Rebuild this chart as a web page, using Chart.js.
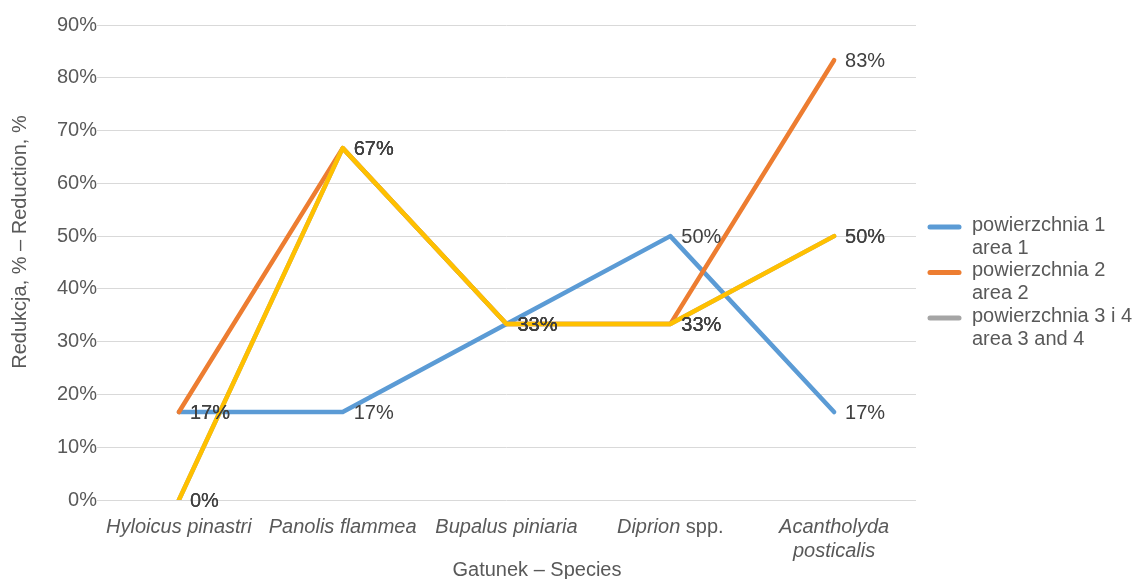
<!DOCTYPE html>
<html>
<head>
<meta charset="utf-8">
<script src="https://cdn.jsdelivr.net/npm/chart.js@4/dist/chart.umd.min.js"></script>
<style>
  body { margin: 0; background: #fff; }
  #wrap { width: 1134px; height: 579px; position: relative; }
</style>
</head>
<body>
<div id="wrap"><canvas id="chart"></canvas></div>
<script>
// categories (species) and reduction values in %
const species = ['Hyloicus pinastri', 'Panolis flammea', 'Bupalus piniaria', 'Diprion spp.', ['Acantholyda', 'posticalis']];
const area1 = [16.67, 16.67, 33.33, 50, 16.67];
const area2 = [16.67, 66.67, 33.33, 33.33, 83.33];
const area3 = [0, 66.67, 33.33, 33.33, 50];
const area4 = [0, 66.67, 33.33, 33.33, 50];
const seriesNames = [
  ['powierzchnia 1', 'area 1'],
  ['powierzchnia 2', 'area 2'],
  ['powierzchnia 3 i 4', 'area 3 and 4'],
  ['powierzchnia 4', 'area 4']
];
const colors = ['#5b9bd5', '#ed7d31', '#a5a5a5', '#ffc000'];
const yTicks = [0, 10, 20, 30, 40, 50, 60, 70, 80, 90];

const fontFam = '"Liberation Sans", Arial, sans-serif';
const fs = 20;

function mkSet(i, vals) {
  return {
    label: seriesNames[i].join(' '),
    data: vals,
    borderColor: colors[i],
    backgroundColor: colors[i],
    borderWidth: 4.5,
    borderCapStyle: 'round',
    borderJoinStyle: 'round',
    pointRadius: 0,
    tension: 0,
    order: 3 - i
  };
}

const decor = {
  id: 'decor',
  afterDatasetsDraw(chart) {
    const ctx = chart.ctx;
    ctx.save();
    ctx.font = fs + 'px ' + fontFam;
    ctx.fillStyle = '#404040';
    ctx.textAlign = 'left';
    ctx.textBaseline = 'middle';
    chart.data.datasets.forEach((ds, d) => {
      const meta = chart.getDatasetMeta(d);
      meta.data.forEach((pt, i) => {
        ctx.fillText(Math.round(ds.data[i]) + '%', pt.x + 11, pt.y + 1);
      });
    });
    ctx.restore();
  },
  afterDraw(chart) {
    const ctx = chart.ctx;
    const xs = chart.scales.x;
    ctx.save();
    ctx.fillStyle = '#595959';
    ctx.textBaseline = 'middle';
    // category labels
    species.forEach((lab, i) => {
      const x = xs.getPixelForTick(i);
      const lines = Array.isArray(lab) ? lab : [lab];
      lines.forEach((ln, j) => {
        const y = 527 + j * 24;
        let it = ln, rest = '';
        if (ln.endsWith(' spp.')) { it = ln.slice(0, -5); rest = ' spp.'; }
        ctx.font = 'italic ' + fs + 'px ' + fontFam;
        const w1 = ctx.measureText(it).width;
        ctx.font = fs + 'px ' + fontFam;
        const w2 = ctx.measureText(rest).width;
        let x0 = x - (w1 + w2) / 2;
        ctx.textAlign = 'left';
        ctx.font = 'italic ' + fs + 'px ' + fontFam;
        ctx.fillText(it, x0, y);
        if (rest) {
          ctx.font = fs + 'px ' + fontFam;
          ctx.fillText(rest, x0 + w1, y);
        }
      });
    });
    // axis titles
    ctx.font = fs + 'px ' + fontFam;
    ctx.textAlign = 'center';
    ctx.fillText('Gatunek – Species', 537, 570);
    ctx.save();
    ctx.translate(20, 242);
    ctx.rotate(-Math.PI / 2);
    ctx.fillText('Redukcja, % – Reduction, %', 0, 0);
    ctx.restore();
    // legend (first three series)
    ctx.textAlign = 'left';
    for (let i = 0; i < 3; i++) {
      const y = 225 + i * 45.5;
      ctx.strokeStyle = colors[i];
      ctx.lineWidth = 5;
      ctx.lineCap = 'round';
      ctx.beginPath();
      ctx.moveTo(930, y + 2);
      ctx.lineTo(959, y + 2);
      ctx.stroke();
      ctx.fillText(seriesNames[i][0], 972, y);
      ctx.fillText(seriesNames[i][1], 972, y + 23);
    }
    ctx.restore();
  }
};

new Chart(document.getElementById('chart').getContext('2d'), {
  type: 'line',
  data: {
    labels: species,
    datasets: [mkSet(0, area1), mkSet(1, area2), mkSet(2, area3), mkSet(3, area4)]
  },
  options: {
    responsive: true,
    maintainAspectRatio: false,
    animation: false,
    layout: { padding: { top: 25, right: 218, bottom: 79, left: 0 } },
    plugins: {
      legend: { display: false },
      tooltip: { enabled: false }
    },
    scales: {
      x: {
        offset: true,
        grid: { display: false },
        border: { display: false },
        ticks: { display: false },
        afterFit(s) { s.height = 0; }
      },
      y: {
        min: 0,
        max: 90,
        grid: { color: '#d9d9d9', lineWidth: 1, drawTicks: false },
        border: { display: false },
        afterBuildTicks(s) { s.ticks = yTicks.map(v => ({ value: v })); },
        ticks: {
          padding: 0,
          color: '#595959',
          font: { family: fontFam, size: fs },
          callback: v => v + '%'
        },
        afterFit(s) { s.width = 97; }
      }
    }
  },
  plugins: [decor]
});
</script>
</body>
</html>
